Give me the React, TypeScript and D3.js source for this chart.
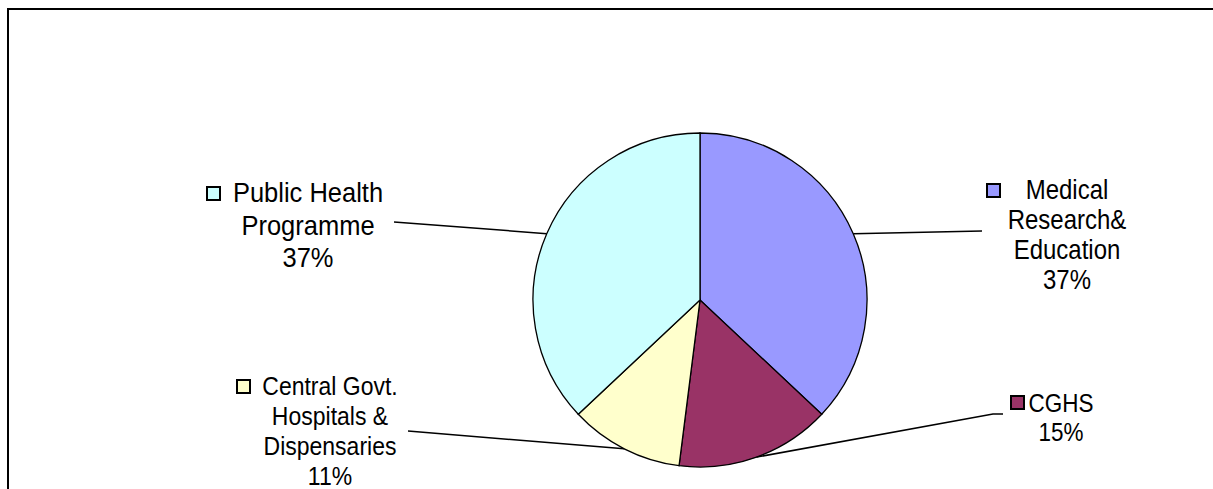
import React from "react";
import * as d3 from "d3";

const categories = [
  "Medical Research& Education",
  "CGHS",
  "Central Govt. Hospitals & Dispensaries",
  "Public Health Programme",
];
const values = [37, 15, 11, 37];
const labelLines = [
  ["Medical", "Research&", "Education"],
  ["CGHS"],
  ["Central Govt.", "Hospitals &", "Dispensaries"],
  ["Public Health", "Programme"],
];
const colors = ["#9999FF", "#993366", "#FFFFCC", "#CCFFFF"];

// label layout (positions only)
const labelLayout = [
  { cx: 1067, y0: 199, dy: 30, fs: 24, sq: [987, 184], end: [982, 231], end2: null as null | number[] },
  { cx: 1061, y0: 412, dy: 29, fs: 22.5, sq: [1011, 396], end: [993, 414], end2: [1003, 414] },
  { cx: 330, y0: 395, dy: 30, fs: 23, sq: [237, 380], end: [408, 431], end2: null },
  { cx: 308, y0: 202, dy: 32.5, fs: 25.5, sq: [207, 187], end: [394, 222], end2: null },
];

const W = 1213;
const H = 489;
const CX = 700;
const CY = 300;
const R = 167;
const TEXT_STRETCH = 1.12;

export default function App() {
  const total = d3.sum(values);
  const pie = d3.pie<number>().sort(null).value((d) => d);
  const arcs = pie(values);
  const arcGen = d3.arc<d3.PieArcDatum<number>>().innerRadius(0).outerRadius(R);

  return (
    <svg
      width={W}
      height={H}
      style={{ position: "absolute", left: 0, top: 0, background: "#fff" }}
      fontFamily="'Liberation Sans', Arial, sans-serif"
    >
      <rect x={0} y={0} width={W} height={H} fill="#fff" />
      <rect x={8} y={9} width={W + 20} height={H + 20} fill="none" stroke="#000" strokeWidth={2} />
      <g transform={`translate(${CX},${CY})`}>
        {arcs.map((a, i) => (
          <path key={i} d={arcGen(a) || ""} fill={colors[i]} stroke="#000" strokeWidth={1.3} />
        ))}
      </g>
      {arcs.map((a, i) => {
        const L = labelLayout[i];
        const mid = (a.startAngle + a.endAngle) / 2;
        const sx = CX + R * Math.sin(mid);
        const sy = CY - R * Math.cos(mid);
        const pts = [[sx, sy], L.end];
        if (L.end2) pts.push(L.end2);
        const line = d3.line()(pts as [number, number][]) || "";
        const pct = Math.round((values[i] / total) * 100) + "%";
        const lines = [...labelLines[i], pct];
        return (
          <g key={"l" + i}>
            <path d={line} fill="none" stroke="#000" strokeWidth={1.5} />
            <rect x={L.sq[0]} y={L.sq[1]} width={13} height={13} fill={colors[i]} stroke="#000" strokeWidth={2} />
            {lines.map((t, j) => (
              <text
                key={j}
                transform={`translate(${L.cx},${L.y0 + j * L.dy}) scale(1,${TEXT_STRETCH})`}
                textAnchor="middle"
                fontSize={L.fs}
                fill="#000"
              >
                {t}
              </text>
            ))}
          </g>
        );
      })}
    </svg>
  );
}
